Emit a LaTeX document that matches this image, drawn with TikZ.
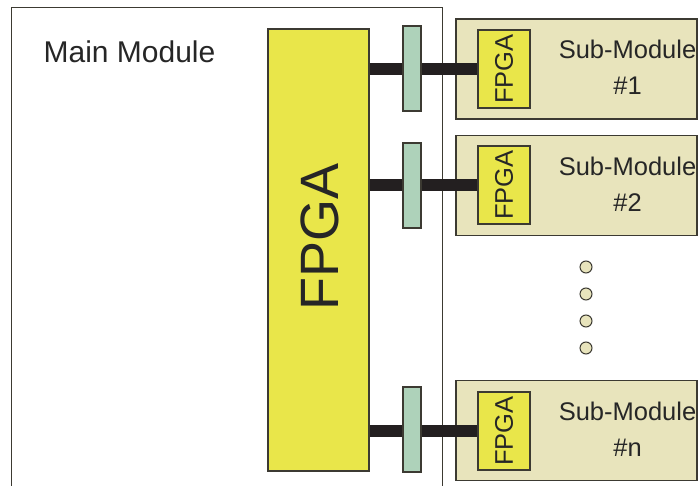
\documentclass[tikz,border=0pt]{standalone}
\usepackage{fontspec}
\setmainfont{Liberation Sans}
\definecolor{fpgay}{RGB}{233,230,74}
\definecolor{conng}{RGB}{174,210,186}
\definecolor{subf}{RGB}{232,228,188}
\definecolor{edge}{RGB}{60,58,50}
\definecolor{barc}{RGB}{35,31,32}
\begin{document}
\begin{tikzpicture}[x=1pt,y=-1pt,
  box/.style={draw=edge,line width=1.2pt,inner sep=0pt,rectangle},
  fpgabox/.style={box,fill=fpgay},
  conn/.style={box,fill=conng,minimum width=18pt,minimum height=85pt},
  subbox/.style={box,fill=subf,minimum width=241pt,minimum height=100pt},
  smallfpga/.style={fpgabox,minimum width=52pt,minimum height=78pt},
  bus/.style={draw=barc,line width=12pt},
  dot/.style={circle,draw=edge,fill=subf,line width=1pt,minimum size=12pt,inner sep=0pt},
  lbl/.style={font=\fontsize{25.5}{36}\selectfont,text=black!85,align=center}]
\useasboundingbox (0,0) rectangle (698,486);
\clip (0,0) rectangle (698,486);
\node[draw=edge,line width=0.9pt,minimum width=431pt,minimum height=493pt,inner sep=0pt] (main) at (226.5,253.5) {};
\node[font=\fontsize{30}{36}\selectfont,text=black!85] (mainlbl) at (129.5,52) {Main Module};
\node[fpgabox,minimum width=101pt,minimum height=442pt] (fpga) at (318.5,250) {};
\node[rotate=90,font=\fontsize{54}{60}\selectfont,text=black!85] (fpgalbl) at (320,237) {FPGA};
% sub-modules
\node[subbox] (s1) at (576.5,69) {};
\node[subbox] (s2) at (576.5,185.5) {};
\node[subbox] (sn) at (576.5,430.5) {};
\node[smallfpga] (f1) at (504,69) {};
\node[smallfpga] (f2) at (504,185) {};
\node[smallfpga] (fn) at (504,431) {};
\foreach \f in {f1,f2,fn}{\node[rotate=90,lbl] at (\f.center) {FPGA};}
\node[lbl] (t1) at (627.5,67.5) {Sub-Module\\\#1};
\node[lbl] (t2) at (627.5,184) {Sub-Module\\\#2};
\node[lbl] (tn) at (627.5,429) {Sub-Module\\\#n};
% buses
\draw[bus] (fpga.east |- f1.west) -- (f1.west);
\draw[bus] (fpga.east |- f2.west) -- (f2.west);
\draw[bus] (fpga.east |- fn.west) -- (fn.west);
\node[conn] (c1) at (412,68.5) {};
\node[conn] (c2) at (412,185.5) {};
\node[conn] (cn) at (412,429.5) {};
% dots
\node[dot] (d1) at (586,267) {};
\node[dot] (d2) at (586,294) {};
\node[dot] (d3) at (586,321) {};
\node[dot] (d4) at (586,348) {};
\end{tikzpicture}
\end{document}
